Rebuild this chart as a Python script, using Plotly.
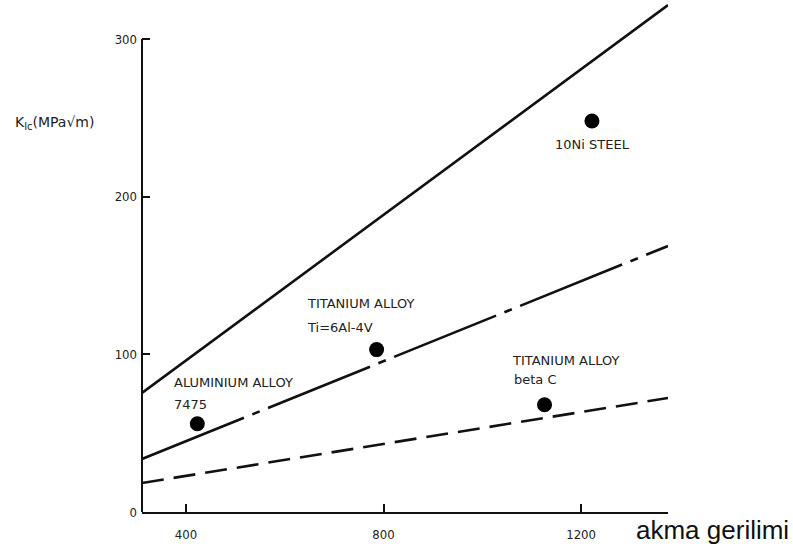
import plotly.graph_objects as go

# Data
x_ends = [311, 1376]
line_upper = [75.5, 321.5]
line_mid = [33.6, 168.7]
line_low = [18.4, 72.3]

point_names = ["ALUMINIUM ALLOY 7475", "TITANIUM ALLOY Ti-6Al-4V", "TITANIUM ALLOY beta C", "10Ni STEEL"]
point_x = [423, 786, 1126, 1222]
point_y = [56, 103, 68, 248]

x_ticks = [400, 800, 1200]
y_ticks = [0, 100, 200, 300]

labels = [
    ("ALUMINIUM ALLOY", 372, 82),
    ("7475", 372, 68),
    ("TITANIUM ALLOY", 641, 132),
    ("Ti=6Al-4V", 641, 117),
    ("TITANIUM ALLOY", 1056, 96),
    ("beta C", 1060, 84),
    ("10Ni STEEL", 1144, 233),
]

ink = "#111111"
fig = go.Figure()
fig.add_trace(go.Scatter(x=x_ends, y=line_upper, mode="lines",
                         line=dict(color=ink, width=2.6), showlegend=False))
fig.add_trace(go.Scatter(x=x_ends, y=line_mid, mode="lines",
                         line=dict(color=ink, width=2.6, dash="110px,9px,8px,9px"), showlegend=False))
fig.add_trace(go.Scatter(x=x_ends, y=line_low, mode="lines",
                         line=dict(color=ink, width=2.6, dash="22px,10px"), showlegend=False))
fig.add_trace(go.Scatter(x=point_x, y=point_y, mode="markers", text=point_names,
                         marker=dict(color="black", size=15), showlegend=False))

for txt, lx, ly in labels:
    fig.add_annotation(x=lx, y=ly, text=txt, showarrow=False, xanchor="left", yanchor="middle",
                       font=dict(family="DejaVu Sans", size=13, color="#222222"))

fig.add_annotation(xref="paper", yref="paper", x=-0.245, y=0.765, xanchor="left", yanchor="middle",
                   text="K<sub>Ic</sub>(MPa√m)", showarrow=False,
                   font=dict(family="DejaVu Sans", size=14, color="#222222"))
fig.add_annotation(xref="paper", yref="paper", x=1.234, y=-0.035, xanchor="right", yanchor="middle",
                   text="akma gerilimi", showarrow=False,
                   font=dict(family="Liberation Sans", size=26, color="#111111"))

# vertical axis line stops at the 300 tick
fig.add_shape(type="line", xref="paper", yref="y", x0=0, x1=0, y0=0, y1=300,
              line=dict(color=ink, width=2))

fig.update_layout(
    width=793, height=558,
    margin=dict(l=142, r=125, t=3, b=46),
    paper_bgcolor="white", plot_bgcolor="white",
    xaxis=dict(range=[311, 1376], tickvals=x_ticks, ticks="inside", ticklen=8, tickwidth=1.5,
               tickcolor=ink, showline=True, linecolor=ink, linewidth=2, showgrid=False,
               zeroline=False, ticklabelstandoff=9,
               tickfont=dict(family="DejaVu Sans Condensed", size=13, color="#222222")),
    yaxis=dict(range=[0, 322.8], tickvals=y_ticks, ticks="inside", ticklen=8, tickwidth=1.5,
               tickcolor=ink, showline=False, showgrid=False, zeroline=False,
               ticklabelstandoff=4,
               tickfont=dict(family="DejaVu Sans Condensed", size=13, color="#222222")),
)

fig.write_html("out.html", config={"displayModeBar": False},
               post_script="document.body.style.margin='0';")
